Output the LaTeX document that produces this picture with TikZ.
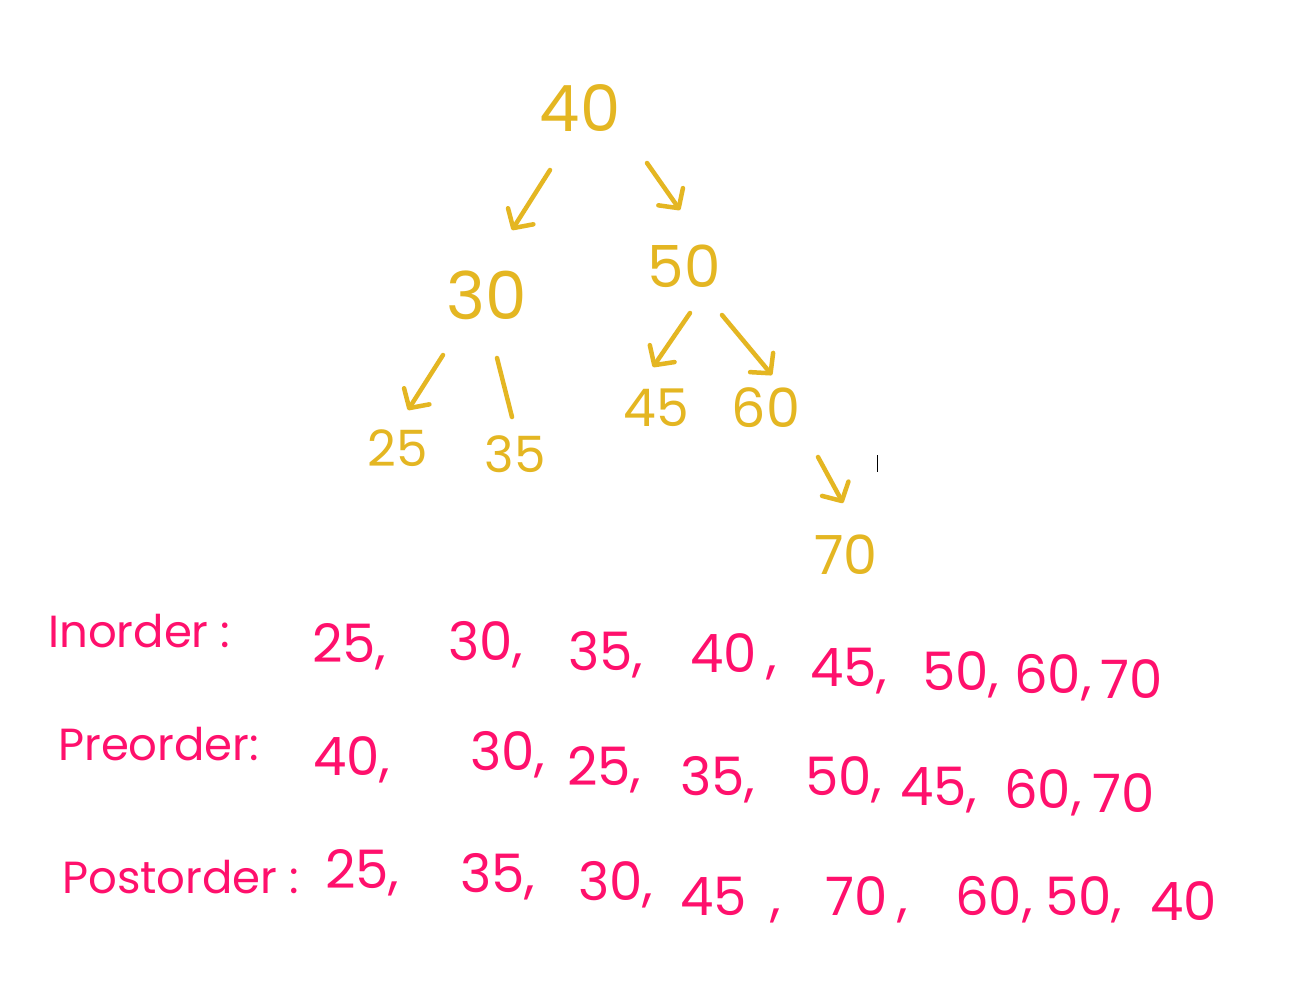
\documentclass[tikz,border=0pt]{standalone}
\usepackage{fontspec}
\setmainfont{Poppins}
\usetikzlibrary{arrows.meta}
\definecolor{gold}{RGB}{228,182,34}
\definecolor{hpink}{RGB}{255,16,108}
\begin{document}
\begin{tikzpicture}[x=1pt,y=-1pt,
  tree/.style={text=gold, inner sep=0pt, font=\fontsize{#1}{#1}\selectfont},
  arr/.style={draw=gold, line width=4.5pt, line cap=round,
     -{Straight Barb[length=14pt,width=30pt,line cap=round,line join=round]}},
  plainline/.style={draw=gold, line width=4.5pt, line cap=round},
  lbl/.style={text=hpink, inner sep=0pt, anchor=base west, font=\fontsize{45}{45}\selectfont},
  item/.style={text=hpink, inner sep=0pt, anchor=base west, font=\fontsize{53}{53}\selectfont}]
\useasboundingbox[fill=white] (0,0) rectangle (1316,1005);

% tree
\node[tree=64] (n40) at (580,108) {40};
\node[tree=66] (n30) at (487,295) {30};
\node[tree=58] (n50) at (684,266) {50};
\node[tree=50] (n25) at (398,448) {25};
\node[tree=50] (n35) at (515,454) {35};
\node[tree=52] (n45) at (656,408) {45};
\node[tree=54] (n60) at (766,408) {60};
\node[tree=54] (n70) at (846,555) {70};

\draw[arr] ([shift={(-30,62)}]n40.center) -- ([shift={(25,-65)}]n30.center);
\draw[arr] ([shift={(67,55)}]n40.center) -- ([shift={(-4,-56)}]n50.center);
\draw[arr] ([shift={(-44,60)}]n30.center) -- ([shift={(10,-38)}]n25.center);
\draw[plainline] ([shift={(10,63)}]n30.center) -- ([shift={(-3,-37)}]n35.center);
\draw[arr] ([shift={(6,47)}]n50.center) -- ([shift={(-3,-41)}]n45.center);
\draw[arr] ([shift={(38,49)}]n50.center) -- ([shift={(6,-33)}]n60.center);
\draw[arr] ([shift={(52,49)}]n60.center) -- ([shift={(-3,-52)}]n70.center);

% cursor mark
\coordinate (c1) at (877,455);
\coordinate (c2) at (877,472);
\draw[black, line width=1pt] (c1) -- (c2);

% traversals
\node[lbl] (lin) at (48,647) {Inorder :};
\node[item] (i1) at (312,662) {25,};
\node[item] (i2) at (448,660) {30,};
\node[item] (i3) at (568,670) {35,};
\node[item] (i4) at (690,672) {40\hskip10pt,};
\node[item] (i5) at (810,686) {45,};
\node[item] (i6) at (922,690) {50,};
\node[item] (i7) at (1014,693) {60,};
\node[item] (i8) at (1100,698) {70};

\node[lbl] (lpre) at (58,760) {Preorder:};
\node[item] (p1) at (313,775) {40,};
\node[item] (p2) at (470,770) {30,};
\node[item] (p3) at (567,785) {25,};
\node[item] (p4) at (680,795) {35,};
\node[item] (p5) at (805,795) {50,};
\node[item] (p6) at (900,805) {45,};
\node[item] (p7) at (1004,808) {60,};
\node[item] (p8) at (1092,812) {70};

\node[lbl] (lpost) at (62,893) {Postorder :};
\node[item] (q1) at (325,888) {25,};
\node[item] (q2) at (460,892) {35,};
\node[item] (q3) at (578,900) {30,};
\node[item] (q4) at (680,915) {45\hskip24pt,};
\node[item] (q5) at (825,915) {70\hskip10pt,};
\node[item] (q6) at (955,915) {60,};
\node[item] (q7) at (1045,915) {50,};
\node[item] (q8) at (1150,920) {40};
\end{tikzpicture}
\end{document}
